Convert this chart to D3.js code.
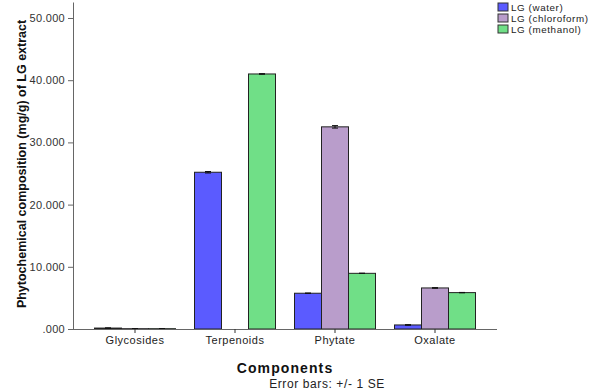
<!DOCTYPE html>
<html><head><meta charset="utf-8">
<script src="https://cdn.jsdelivr.net/npm/d3@7"></script>
<style>body{margin:0;background:#fff}svg{display:block}text{font-family:"Liberation Sans",Arial,sans-serif}</style>
</head><body><svg id="c" width="600" height="392"></svg>
<script>
const categories = ["Glycosides","Terpenoids","Phytate","Oxalate"];
const seriesNames = ["LG (water)","LG (chloroform)","LG (methanol)"];
const water = [0.15, 25.2, 5.75, 0.65];
const chloroform = [0.05, 0.0, 32.5, 6.6];
const methanol = [0.05, 41.0, 8.95, 5.85];
const seWater = [0.03, 0.12, 0.03, 0.05];
const seChloroform = [0.01, 0.0, 0.2, 0.05];
const seMethanol = [0.01, 0.05, 0.03, 0.03];
const yTicks = [0,10,20,30,40,50];
const colors = ["#5b5bff","#b99dcb","#70df87"];

const series = [water, chloroform, methanol];
const ses = [seWater, seChloroform, seMethanol];
const svg = d3.select("#c");
const x0 = d3.scaleBand().domain(categories).range([85,485]).paddingInner(0.19).paddingOuter(0.095);
const x1 = d3.scaleBand().domain(d3.range(3)).range([0, x0.bandwidth()]);
const y = d3.scaleLinear().domain([0,52.57]).range([329,2]);

const g = svg.append("g");
categories.forEach((c,i)=>{
  series.forEach((s,j)=>{
    const xx = x0(c)+x1(j);
    g.append("rect").attr("x",xx).attr("y",y(s[i])).attr("width",x1.bandwidth()).attr("height",y(0)-y(s[i]))
     .attr("fill",colors[j]).attr("stroke","#222").attr("stroke-width",1);
  });
});
categories.forEach((c,i)=>{
  series.forEach((s,j)=>{
    if (ses[j][i] <= 0) return;
    const cx = x0(c)+x1(j)+x1.bandwidth()/2;
    const hi = y(s[i]+ses[j][i]), lo = y(Math.max(0,s[i]-ses[j][i]));
    g.append("line").attr("x1",cx).attr("x2",cx).attr("y1",hi).attr("y2",lo).attr("stroke","#111");
    g.append("line").attr("x1",cx-3).attr("x2",cx+3).attr("y1",hi).attr("y2",hi).attr("stroke","#111");
    g.append("line").attr("x1",cx-3).attr("x2",cx+3).attr("y1",lo).attr("y2",lo).attr("stroke","#111");
  });
});

const fmt = d => d===0 ? ".000" : d3.format(".3f")(d);
const ya = svg.append("g").attr("transform","translate(73,0)")
  .call(d3.axisLeft(y).tickValues(yTicks).tickFormat(fmt).tickSize(5).tickSizeOuter(0));
ya.select(".domain").attr("stroke","#666");
ya.selectAll(".tick line").attr("stroke","#666");
ya.selectAll("text").attr("font-size",11).attr("fill","#333").attr("letter-spacing","0.3")
  .attr("font-family","Liberation Sans, Arial, sans-serif");

const xa = svg.append("g").attr("transform","translate(0,329)")
  .call(d3.axisBottom(x0).tickSize(4).tickSizeOuter(0));
xa.select(".domain").attr("d","M73,0.5H497").attr("stroke","#666");
xa.selectAll(".tick line").attr("stroke","#333");
xa.selectAll("text").attr("font-size",11).attr("fill","#222").attr("dy","0.75em").attr("letter-spacing","0.5")
  .attr("font-family","Liberation Sans, Arial, sans-serif");

svg.append("text").attr("transform","translate(26,164) rotate(-90)").attr("text-anchor","middle")
  .attr("font-size",12.5).attr("font-weight","bold").attr("fill","#111")
  .text("Phytochemical composition (mg/g) of LG extract");
svg.append("text").attr("x",285).attr("y",373).attr("text-anchor","middle")
  .attr("font-size",14).attr("font-weight","bold").attr("fill","#111").attr("letter-spacing","1.1")
  .text("Components");
svg.append("text").attr("x",327).attr("y",388).attr("text-anchor","middle")
  .attr("font-size",12).attr("fill","#222").attr("letter-spacing","0.6").text("Error bars: +/- 1 SE");

const lg = svg.append("g");
seriesNames.forEach((n,j)=>{
  lg.append("rect").attr("x",498).attr("y",3+j*11).attr("width",10).attr("height",8)
    .attr("fill",colors[j]).attr("stroke","#333").attr("stroke-width",1);
  lg.append("text").attr("x",511).attr("y",11+j*11).attr("font-size",9.8).attr("letter-spacing","0.6")
    .attr("fill","#222").text(n);
});
</script></body></html>
